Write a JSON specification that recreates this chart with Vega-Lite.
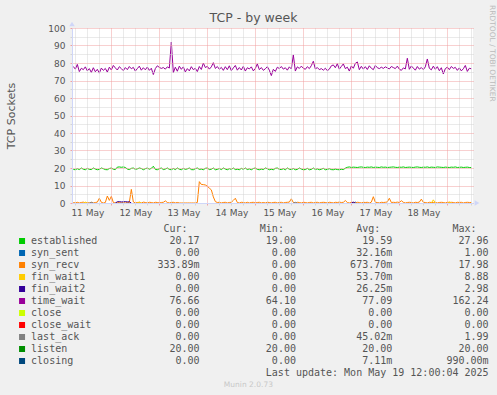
{
  "$schema": "https://vega.github.io/schema/vega-lite/v6.json",
  "background": "#F0F0F0",
  "padding": {"left": 5, "top": 5, "right": 12, "bottom": 12},
  "bounds": "flush",
  "spacing": 26,
  "config": {
    "font": "DejaVu Sans",
    "view": {"stroke": null},
    "axis": {"labelFont": "DejaVu Sans", "titleFont": "DejaVu Sans"},
    "title": {"font": "DejaVu Sans"},
    "text": {"font": "DejaVu Sans Mono", "fontSize": 10, "color": "#555555", "baseline": "middle"}
  },
  "vconcat": [
    {
      "width": 401,
      "height": 175,
      "view": {"fill": "#FFFFFF", "stroke": null},
      "title": {"text": "TCP - by week", "fontSize": 12.5, "fontWeight": "normal", "color": "#555555", "anchor": "middle", "frame": "group", "dx": -19, "dy": 23, "offset": 4},
      "layer": [
        {
          "data": {
            "format": {"parse": {"t": "utc:'%Y-%m-%d %H'"}},
            "values": [
              {"t":"2025-05-11 05","es":19.2,"sr":0.3,"tw":78.0,"li":20,"ss":0,"f1":0,"f2":0,"la":0},
              {"t":"2025-05-11 06","es":19.0,"sr":0,"tw":76.5},
              {"t":"2025-05-11 07","es":19.6,"sr":0.4,"tw":79.2},
              {"t":"2025-05-11 08","es":19.1,"sr":0,"tw":75.1},
              {"t":"2025-05-11 09","es":20.0,"sr":0.3,"tw":77.0},
              {"t":"2025-05-11 10","es":19.3,"sr":0.5,"tw":76.2,"f1":0},
              {"t":"2025-05-11 11","es":19.0,"sr":0,"tw":77.8,"f1":0.5},
              {"t":"2025-05-11 12","es":19.8,"sr":0.3,"tw":75.5,"f1":0},
              {"t":"2025-05-11 13","es":19.2,"sr":0,"tw":76.8,"la":0},
              {"t":"2025-05-11 14","es":19.1,"sr":0.4,"tw":74.6,"la":0.4},
              {"t":"2025-05-11 15","es":20.0,"sr":0,"tw":77.3,"la":0},
              {"t":"2025-05-11 16","es":19.4,"sr":0.3,"tw":75.0},
              {"t":"2025-05-11 17","es":19.0,"sr":0.5,"tw":76.4},
              {"t":"2025-05-11 18","es":19.2,"sr":2.7,"tw":74.2},
              {"t":"2025-05-11 19","es":20.0,"sr":0.4,"tw":77.1},
              {"t":"2025-05-11 20","es":19.6,"sr":0,"tw":75.8},
              {"t":"2025-05-11 21","es":19.1,"sr":0.3,"tw":76.9},
              {"t":"2025-05-11 22","es":19.0,"sr":4.0,"tw":74.8},
              {"t":"2025-05-11 23","es":19.7,"sr":1.5,"tw":77.6},
              {"t":"2025-05-12 00","es":20.0,"sr":3.8,"tw":76.0},
              {"t":"2025-05-12 01","es":19.3,"sr":0.3,"tw":78.6},
              {"t":"2025-05-12 02","es":19.1,"sr":0,"tw":77.2,"f2":0},
              {"t":"2025-05-12 03","es":20.5,"sr":0.4,"tw":76.0,"f2":0.7},
              {"t":"2025-05-12 04","es":20.6,"sr":0.3,"tw":77.9,"f2":0.8},
              {"t":"2025-05-12 05","es":20.4,"sr":0,"tw":76.8,"f2":0.6},
              {"t":"2025-05-12 06","es":20.6,"sr":0.3,"tw":75.6,"f2":0.7},
              {"t":"2025-05-12 07","es":20.3,"sr":0,"tw":77.4,"f2":0.8},
              {"t":"2025-05-12 08","es":19.4,"sr":0.4,"tw":76.2,"f2":0.6},
              {"t":"2025-05-12 09","es":19.1,"sr":0.3,"tw":78.0,"f2":0.7},
              {"t":"2025-05-12 10","es":19.8,"sr":7.8,"tw":76.7,"f2":0},
              {"t":"2025-05-12 11","es":20.0,"sr":0.6,"tw":77.5},
              {"t":"2025-05-12 12","es":19.2,"sr":0,"tw":75.4},
              {"t":"2025-05-12 13","es":19.5,"sr":0.3,"tw":76.8,"f1":0},
              {"t":"2025-05-12 14","es":20.0,"sr":0.4,"tw":78.2,"f1":0.5},
              {"t":"2025-05-12 15","es":19.7,"sr":0,"tw":75.9,"f1":0},
              {"t":"2025-05-12 16","es":19.0,"sr":0.5,"tw":77.3},
              {"t":"2025-05-12 17","es":19.6,"sr":0.3,"tw":76.1},
              {"t":"2025-05-12 18","es":20.0,"sr":0,"tw":77.7},
              {"t":"2025-05-12 19","es":19.3,"sr":0.4,"tw":75.8},
              {"t":"2025-05-12 20","es":19.8,"sr":0.3,"tw":77.0},
              {"t":"2025-05-12 21","es":21.0,"sr":0,"tw":73.4},
              {"t":"2025-05-12 22","es":19.2,"sr":0.4,"tw":76.8},
              {"t":"2025-05-12 23","es":19.0,"sr":0.3,"tw":78.4},
              {"t":"2025-05-13 00","es":19.6,"sr":0,"tw":77.5},
              {"t":"2025-05-13 01","es":20.0,"sr":0.3,"tw":76.9},
              {"t":"2025-05-13 02","es":19.1,"sr":0.4,"tw":77.4},
              {"t":"2025-05-13 03","es":19.4,"sr":1.2,"tw":76.5},
              {"t":"2025-05-13 04","es":20.0,"sr":0.3,"tw":77.8},
              {"t":"2025-05-13 05","es":19.2,"sr":0,"tw":77.1},
              {"t":"2025-05-13 06","es":19.0,"sr":0.3,"tw":92.0},
              {"t":"2025-05-13 07","es":19.7,"sr":0.4,"tw":74.5},
              {"t":"2025-05-13 08","es":19.1,"sr":0,"tw":77.6},
              {"t":"2025-05-13 09","es":20.0,"sr":0.3,"tw":75.3},
              {"t":"2025-05-13 10","es":19.3,"sr":0,"tw":78.2},
              {"t":"2025-05-13 11","es":19.0,"sr":0,"tw":76.4},
              {"t":"2025-05-13 12","es":19.8,"sr":0,"tw":77.8},
              {"t":"2025-05-13 13","es":19.2,"sr":0,"tw":74.9},
              {"t":"2025-05-13 14","es":19.5,"sr":0,"tw":76.8},
              {"t":"2025-05-13 15","es":20.0,"sr":0,"tw":75.5},
              {"t":"2025-05-13 16","es":19.1,"sr":0,"tw":77.9},
              {"t":"2025-05-13 17","es":19.0,"sr":0,"tw":76.2},
              {"t":"2025-05-13 18","es":19.6,"sr":0,"tw":77.0},
              {"t":"2025-05-13 19","es":20.0,"sr":0.3,"tw":75.1},
              {"t":"2025-05-13 20","es":19.2,"sr":12.2,"tw":78.0},
              {"t":"2025-05-13 21","es":19.4,"sr":10.6,"tw":76.3},
              {"t":"2025-05-13 22","es":19.0,"sr":10.5,"tw":80.0},
              {"t":"2025-05-13 23","es":19.8,"sr":10.3,"tw":77.4},
              {"t":"2025-05-14 00","es":20.0,"sr":9.6,"tw":78.1},
              {"t":"2025-05-14 01","es":19.1,"sr":8.5,"tw":76.5},
              {"t":"2025-05-14 02","es":19.3,"sr":7.5,"tw":77.8},
              {"t":"2025-05-14 03","es":20.0,"sr":3.5,"tw":80.2},
              {"t":"2025-05-14 04","es":19.0,"sr":0.8,"tw":76.9},
              {"t":"2025-05-14 05","es":19.2,"sr":0.3,"tw":78.0},
              {"t":"2025-05-14 06","es":19.7,"sr":0.4,"tw":76.4},
              {"t":"2025-05-14 07","es":19.1,"sr":0,"tw":77.5},
              {"t":"2025-05-14 08","es":20.0,"sr":0.3,"tw":75.8},
              {"t":"2025-05-14 09","es":19.4,"sr":0.4,"tw":77.9},
              {"t":"2025-05-14 10","es":19.0,"sr":0,"tw":76.2},
              {"t":"2025-05-14 11","es":19.6,"sr":0.3,"tw":78.4},
              {"t":"2025-05-14 12","es":19.2,"sr":0.4,"tw":75.6},
              {"t":"2025-05-14 13","es":20.0,"sr":1.5,"tw":77.2},
              {"t":"2025-05-14 14","es":19.1,"sr":2.7,"tw":78.6},
              {"t":"2025-05-14 15","es":19.3,"sr":0.3,"tw":75.9},
              {"t":"2025-05-14 16","es":19.0,"sr":0,"tw":77.4},
              {"t":"2025-05-14 17","es":19.8,"sr":0.4,"tw":76.0},
              {"t":"2025-05-14 18","es":19.2,"sr":0.3,"tw":78.1},
              {"t":"2025-05-14 19","es":20.0,"sr":0,"tw":75.4},
              {"t":"2025-05-14 20","es":19.1,"sr":0.4,"tw":77.3},
              {"t":"2025-05-14 21","es":19.5,"sr":0,"tw":76.6},
              {"t":"2025-05-14 22","es":19.0,"sr":0.3,"tw":77.8},
              {"t":"2025-05-14 23","es":19.7,"sr":0.4,"tw":75.5},
              {"t":"2025-05-15 00","es":20.0,"sr":0,"tw":76.9},
              {"t":"2025-05-15 01","es":19.2,"sr":0.3,"tw":79.5},
              {"t":"2025-05-15 02","es":19.0,"sr":0.4,"tw":76.2},
              {"t":"2025-05-15 03","es":19.4,"sr":0,"tw":77.4},
              {"t":"2025-05-15 04","es":19.1,"sr":0.3,"tw":75.8},
              {"t":"2025-05-15 05","es":20.0,"sr":0,"tw":76.7},
              {"t":"2025-05-15 06","es":19.6,"sr":0.4,"tw":77.9},
              {"t":"2025-05-15 07","es":19.0,"sr":0.3,"tw":75.9},
              {"t":"2025-05-15 08","es":19.3,"sr":0,"tw":72.8},
              {"t":"2025-05-15 09","es":19.0,"sr":0.3,"tw":76.4},
              {"t":"2025-05-15 10","es":19.8,"sr":0.4,"tw":75.2},
              {"t":"2025-05-15 11","es":20.0,"sr":0,"tw":77.6},
              {"t":"2025-05-15 12","es":19.2,"sr":0.3,"tw":76.8},
              {"t":"2025-05-15 13","es":19.1,"sr":0.4,"tw":78.0},
              {"t":"2025-05-15 14","es":19.6,"sr":0,"tw":76.5},
              {"t":"2025-05-15 15","es":19.0,"sr":0.3,"tw":77.3},
              {"t":"2025-05-15 16","es":20.0,"sr":0.4,"tw":75.9},
              {"t":"2025-05-15 17","es":19.3,"sr":0.5,"tw":77.8},
              {"t":"2025-05-15 18","es":19.1,"sr":2.4,"tw":76.6},
              {"t":"2025-05-15 19","es":19.7,"sr":0.3,"tw":84.6,"la":0},
              {"t":"2025-05-15 20","es":19.0,"sr":0,"tw":75.4,"la":0.4},
              {"t":"2025-05-15 21","es":19.2,"sr":0.4,"tw":77.8,"la":0},
              {"t":"2025-05-15 22","es":20.0,"sr":0.3,"tw":76.9},
              {"t":"2025-05-15 23","es":19.4,"sr":0,"tw":78.2},
              {"t":"2025-05-16 00","es":19.0,"sr":0.4,"tw":77.0},
              {"t":"2025-05-16 01","es":19.1,"sr":0.3,"tw":76.4},
              {"t":"2025-05-16 02","es":19.8,"sr":0,"tw":77.9},
              {"t":"2025-05-16 03","es":19.0,"sr":0.3,"tw":76.8},
              {"t":"2025-05-16 04","es":19.2,"sr":0.4,"tw":78.5},
              {"t":"2025-05-16 05","es":20.0,"sr":0,"tw":81.0},
              {"t":"2025-05-16 06","es":19.1,"sr":0.3,"tw":76.6},
              {"t":"2025-05-16 07","es":19.5,"sr":0.4,"tw":77.4},
              {"t":"2025-05-16 08","es":19.0,"sr":0,"tw":76.2},
              {"t":"2025-05-16 09","es":19.3,"sr":0.3,"tw":76.8},
              {"t":"2025-05-16 10","es":19.8,"sr":0.4,"tw":75.9},
              {"t":"2025-05-16 11","es":19.0,"sr":0.3,"tw":77.0},
              {"t":"2025-05-16 12","es":19.2,"sr":0,"tw":75.6},
              {"t":"2025-05-16 13","es":19.6,"sr":0.4,"tw":76.5},
              {"t":"2025-05-16 14","es":19.1,"sr":0.3,"tw":78.4},
              {"t":"2025-05-16 15","es":19.0,"sr":0,"tw":78.9},
              {"t":"2025-05-16 16","es":19.4,"sr":0.4,"tw":77.3},
              {"t":"2025-05-16 17","es":19.1,"sr":0.3,"tw":79.6},
              {"t":"2025-05-16 18","es":19.0,"sr":0.5,"tw":76.5},
              {"t":"2025-05-16 19","es":19.3,"sr":0.3,"tw":78.0},
              {"t":"2025-05-16 20","es":19.1,"sr":0.4,"tw":79.5},
              {"t":"2025-05-16 21","es":19.9,"sr":1.4,"tw":76.8},
              {"t":"2025-05-16 22","es":20.4,"sr":0.3,"tw":77.6},
              {"t":"2025-05-16 23","es":20.6,"sr":0,"tw":75.4},
              {"t":"2025-05-17 00","es":20.3,"sr":0.4,"tw":78.3,"f2":0},
              {"t":"2025-05-17 01","es":20.5,"sr":0.3,"tw":77.0,"f2":0.5,"ss":0},
              {"t":"2025-05-17 02","es":20.4,"sr":0,"tw":79.8,"f2":0,"ss":0.5},
              {"t":"2025-05-17 03","es":20.3,"sr":0.4,"tw":80.6,"ss":0},
              {"t":"2025-05-17 04","es":20.5,"sr":0.3,"tw":76.2},
              {"t":"2025-05-17 05","es":20.6,"sr":0,"tw":78.1},
              {"t":"2025-05-17 06","es":20.4,"sr":0.4,"tw":76.5},
              {"t":"2025-05-17 07","es":20.3,"sr":0.3,"tw":77.9},
              {"t":"2025-05-17 08","es":20.5,"sr":0.4,"tw":76.3},
              {"t":"2025-05-17 09","es":20.4,"sr":0,"tw":78.4},
              {"t":"2025-05-17 10","es":20.6,"sr":0.5,"tw":77.0},
              {"t":"2025-05-17 11","es":20.3,"sr":3.6,"tw":76.2},
              {"t":"2025-05-17 12","es":20.5,"sr":0.4,"tw":78.6},
              {"t":"2025-05-17 13","es":20.4,"sr":0.3,"tw":77.3},
              {"t":"2025-05-17 14","es":20.3,"sr":0,"tw":76.8},
              {"t":"2025-05-17 15","es":20.6,"sr":0.4,"tw":77.6},
              {"t":"2025-05-17 16","es":20.4,"sr":0.3,"tw":76.9},
              {"t":"2025-05-17 17","es":20.5,"sr":0.4,"tw":77.8},
              {"t":"2025-05-17 18","es":20.3,"sr":0.6,"tw":77.2},
              {"t":"2025-05-17 19","es":20.4,"sr":2.7,"tw":76.6},
              {"t":"2025-05-17 20","es":20.5,"sr":0.3,"tw":78.0},
              {"t":"2025-05-17 21","es":20.6,"sr":0.4,"tw":77.4},
              {"t":"2025-05-17 22","es":20.4,"sr":0.3,"tw":76.8},
              {"t":"2025-05-17 23","es":20.3,"sr":0.5,"tw":78.2},
              {"t":"2025-05-18 00","es":20.5,"sr":0.3,"tw":76.5},
              {"t":"2025-05-18 01","es":20.4,"sr":1.3,"tw":75.8},
              {"t":"2025-05-18 02","es":20.6,"sr":0.4,"tw":77.2},
              {"t":"2025-05-18 03","es":20.3,"sr":0,"tw":76.6},
              {"t":"2025-05-18 04","es":20.4,"sr":0.3,"tw":82.7},
              {"t":"2025-05-18 05","es":20.5,"sr":0.4,"tw":76.4},
              {"t":"2025-05-18 06","es":20.4,"sr":0.3,"tw":78.3},
              {"t":"2025-05-18 07","es":20.3,"sr":0,"tw":77.1},
              {"t":"2025-05-18 08","es":20.5,"sr":0.4,"tw":75.9},
              {"t":"2025-05-18 09","es":20.6,"sr":0.3,"tw":78.0},
              {"t":"2025-05-18 10","es":20.4,"sr":0.5,"tw":76.5},
              {"t":"2025-05-18 11","es":20.3,"sr":2.2,"tw":77.4},
              {"t":"2025-05-18 12","es":20.5,"sr":0.4,"tw":76.2},
              {"t":"2025-05-18 13","es":20.4,"sr":0.3,"tw":77.8},
              {"t":"2025-05-18 14","es":20.6,"sr":0,"tw":82.3},
              {"t":"2025-05-18 15","es":20.3,"sr":0.4,"tw":77.0},
              {"t":"2025-05-18 16","es":20.5,"sr":0.3,"tw":76.1,"f1":0},
              {"t":"2025-05-18 17","es":20.4,"sr":0.3,"tw":78.2,"f1":1.8},
              {"t":"2025-05-18 18","es":20.3,"sr":0.4,"tw":76.4,"f1":0},
              {"t":"2025-05-18 19","es":20.6,"sr":0,"tw":77.9},
              {"t":"2025-05-18 20","es":20.5,"sr":0.3,"tw":75.6},
              {"t":"2025-05-18 21","es":20.4,"sr":0.4,"tw":77.3},
              {"t":"2025-05-18 22","es":20.3,"sr":0.3,"tw":73.7},
              {"t":"2025-05-18 23","es":20.5,"sr":0,"tw":76.8},
              {"t":"2025-05-19 00","es":20.4,"sr":0.4,"tw":77.6,"f1":0},
              {"t":"2025-05-19 01","es":20.3,"sr":0.3,"tw":76.2,"f1":0.6},
              {"t":"2025-05-19 02","es":20.5,"sr":0.4,"tw":78.0,"f1":0},
              {"t":"2025-05-19 03","es":20.4,"sr":0.3,"tw":76.9},
              {"t":"2025-05-19 04","es":20.6,"sr":0,"tw":77.5},
              {"t":"2025-05-19 05","es":20.3,"sr":0.4,"tw":75.8},
              {"t":"2025-05-19 06","es":20.4,"sr":0.3,"tw":77.2},
              {"t":"2025-05-19 07","es":20.5,"sr":0.4,"tw":75.5},
              {"t":"2025-05-19 08","es":20.3,"sr":0,"tw":76.7},
              {"t":"2025-05-19 09","es":20.4,"sr":0.3,"tw":78.6},
              {"t":"2025-05-19 10","es":20.5,"sr":0.4,"tw":75.2},
              {"t":"2025-05-19 11","es":20.3,"sr":0.3,"tw":77.0},
              {"t":"2025-05-19 12","es":20.2,"sr":0.3,"tw":76.7,"li":20,"ss":0,"f1":0,"f2":0,"la":0}
            ]
          },
          "transform": [{"fold": ["es","ss","sr","f1","f2","tw","la","li"], "as": ["k","v"]}],
          "mark": {"type": "line", "strokeWidth": 1},
          "encoding": {
            "x": {
              "field": "t", "type": "temporal",
              "scale": {"type": "utc", "domain": [{"year":2025,"month":5,"date":11,"hours":4,"minutes":20,"utc":true},{"year":2025,"month":5,"date":19,"hours":12,"minutes":50,"utc":true}]},
              "axis": {"title": null, "tickCount": {"interval": "hours", "step": 6}, "labelExpr": "utchours(datum.value) == 12 && utcdate(datum.value) < 19 ? utcFormat(datum.value, '%d %b') : ''", "labelFlush": false, "labelOverlap": false, "labelFontSize": 9, "labelColor": "#555555", "labelPadding": 3, "gridColor": {"condition": {"test": "utchours(datum.value) == 0", "value": "#F0A0A0"}, "value": "#D4D4D4"}, "gridDash": [1, 1], "tickSize": 2, "tickColor": {"condition": {"test": "utchours(datum.value) == 0", "value": "#F0A0A0"}, "value": "#D4D4D4"}, "domainColor": "#CFD6F8", "zindex": 1}
            },
            "y": {
              "field": "v", "type": "quantitative",
              "scale": {"domain": [0, 100], "nice": false},
              "axis": {"title": "TCP Sockets", "values": [0,5,10,15,20,25,30,35,40,45,50,55,60,65,70,75,80,85,90,95,100], "labelExpr": "datum.value % 10 == 0 ? datum.label : ''", "labelOverlap": false, "labelFontSize": 9, "labelColor": "#555555", "labelPadding": 5, "gridColor": {"condition": {"test": "datum.value % 10 == 0", "value": "#F0A0A0"}, "value": "#D4D4D4"}, "gridDash": [1, 1], "tickSize": 2, "tickColor": {"condition": {"test": "datum.value % 10 == 0", "value": "#F0A0A0"}, "value": "#D4D4D4"}, "titleFontSize": 11, "titleFontWeight": "normal", "titleColor": "#555555", "titlePadding": 31, "domainColor": "#CFD6F8", "zindex": 1}
            },
            "color": {
              "field": "k", "type": "nominal",
              "scale": {"domain": ["es","ss","sr","f1","f2","tw","cl","cw","la","li","cg"], "range": ["#00CC00","#0066B3","#FF8000","#FFCC00","#330099","#990099","#CCFF00","#FF0000","#808080","#008F00","#00487D"]},
              "legend": null
            }
          }
        },
        {
          "data": {"values": [{"s": "RRDTOOL / TOBI OETIKER"}]},
          "mark": {"type": "text", "angle": 90, "align": "left", "baseline": "middle", "font": "DejaVu Sans", "fontSize": 7.5, "color": "#BBBBBB", "dx": -23, "dy": -19},
          "encoding": {
            "x": {"datum": {"year":2025,"month":5,"date":19,"hours":12,"minutes":50,"utc":true}, "type": "temporal",
              "scale": {"type": "utc", "domain": [{"year":2025,"month":5,"date":11,"hours":4,"minutes":20,"utc":true},{"year":2025,"month":5,"date":19,"hours":12,"minutes":50,"utc":true}]},
              "axis": {"title": null, "tickCount": {"interval": "hours", "step": 6}, "labelExpr": "utchours(datum.value) == 12 && utcdate(datum.value) < 19 ? utcFormat(datum.value, '%d %b') : ''", "labelFlush": false, "labelOverlap": false, "labelFontSize": 9, "labelColor": "#555555", "labelPadding": 3, "gridColor": {"condition": {"test": "utchours(datum.value) == 0", "value": "#F0A0A0"}, "value": "#D4D4D4"}, "gridDash": [1, 1], "tickSize": 2, "tickColor": {"condition": {"test": "utchours(datum.value) == 0", "value": "#F0A0A0"}, "value": "#D4D4D4"}, "domainColor": "#CFD6F8", "zindex": 1}},
            "y": {"datum": 100, "type": "quantitative",
              "scale": {"domain": [0, 100], "nice": false},
              "axis": {"title": "TCP Sockets", "values": [0,5,10,15,20,25,30,35,40,45,50,55,60,65,70,75,80,85,90,95,100], "labelExpr": "datum.value % 10 == 0 ? datum.label : ''", "labelOverlap": false, "labelFontSize": 9, "labelColor": "#555555", "labelPadding": 5, "gridColor": {"condition": {"test": "datum.value % 10 == 0", "value": "#F0A0A0"}, "value": "#D4D4D4"}, "gridDash": [1, 1], "tickSize": 2, "tickColor": {"condition": {"test": "datum.value % 10 == 0", "value": "#F0A0A0"}, "value": "#D4D4D4"}, "titleFontSize": 11, "titleFontWeight": "normal", "titleColor": "#555555", "titlePadding": 31, "domainColor": "#CFD6F8", "zindex": 1}},
            "text": {"field": "s"}
          }
        },
        {
          "data": {"values": [{}]},
          "mark": {"type": "point", "shape": "triangle-up", "filled": true, "color": "#CFD6F8", "opacity": 1, "size": 30, "yOffset": -4},
          "encoding": {
            "x": {"datum": {"year":2025,"month":5,"date":11,"hours":4,"minutes":20,"utc":true}, "type": "temporal",
              "scale": {"type": "utc", "domain": [{"year":2025,"month":5,"date":11,"hours":4,"minutes":20,"utc":true},{"year":2025,"month":5,"date":19,"hours":12,"minutes":50,"utc":true}]},
              "axis": {"title": null, "tickCount": {"interval": "hours", "step": 6}, "labelExpr": "utchours(datum.value) == 12 && utcdate(datum.value) < 19 ? utcFormat(datum.value, '%d %b') : ''", "labelFlush": false, "labelOverlap": false, "labelFontSize": 9, "labelColor": "#555555", "labelPadding": 3, "gridColor": {"condition": {"test": "utchours(datum.value) == 0", "value": "#F0A0A0"}, "value": "#D4D4D4"}, "gridDash": [1, 1], "tickSize": 2, "tickColor": {"condition": {"test": "utchours(datum.value) == 0", "value": "#F0A0A0"}, "value": "#D4D4D4"}, "domainColor": "#CFD6F8", "zindex": 1}},
            "y": {"datum": 100, "type": "quantitative",
              "scale": {"domain": [0, 100], "nice": false},
              "axis": {"title": "TCP Sockets", "values": [0,5,10,15,20,25,30,35,40,45,50,55,60,65,70,75,80,85,90,95,100], "labelExpr": "datum.value % 10 == 0 ? datum.label : ''", "labelOverlap": false, "labelFontSize": 9, "labelColor": "#555555", "labelPadding": 5, "gridColor": {"condition": {"test": "datum.value % 10 == 0", "value": "#F0A0A0"}, "value": "#D4D4D4"}, "gridDash": [1, 1], "tickSize": 2, "tickColor": {"condition": {"test": "datum.value % 10 == 0", "value": "#F0A0A0"}, "value": "#D4D4D4"}, "titleFontSize": 11, "titleFontWeight": "normal", "titleColor": "#555555", "titlePadding": 31, "domainColor": "#CFD6F8", "zindex": 1}}
          }
        },
        {
          "data": {"values": [{}]},
          "mark": {"type": "point", "shape": "triangle-right", "filled": true, "color": "#CFD6F8", "opacity": 1, "size": 30, "xOffset": 4},
          "encoding": {
            "x": {"datum": {"year":2025,"month":5,"date":19,"hours":12,"minutes":50,"utc":true}, "type": "temporal",
              "scale": {"type": "utc", "domain": [{"year":2025,"month":5,"date":11,"hours":4,"minutes":20,"utc":true},{"year":2025,"month":5,"date":19,"hours":12,"minutes":50,"utc":true}]},
              "axis": {"title": null, "tickCount": {"interval": "hours", "step": 6}, "labelExpr": "utchours(datum.value) == 12 && utcdate(datum.value) < 19 ? utcFormat(datum.value, '%d %b') : ''", "labelFlush": false, "labelOverlap": false, "labelFontSize": 9, "labelColor": "#555555", "labelPadding": 3, "gridColor": {"condition": {"test": "utchours(datum.value) == 0", "value": "#F0A0A0"}, "value": "#D4D4D4"}, "gridDash": [1, 1], "tickSize": 2, "tickColor": {"condition": {"test": "utchours(datum.value) == 0", "value": "#F0A0A0"}, "value": "#D4D4D4"}, "domainColor": "#CFD6F8", "zindex": 1}},
            "y": {"datum": 0, "type": "quantitative",
              "scale": {"domain": [0, 100], "nice": false},
              "axis": {"title": "TCP Sockets", "values": [0,5,10,15,20,25,30,35,40,45,50,55,60,65,70,75,80,85,90,95,100], "labelExpr": "datum.value % 10 == 0 ? datum.label : ''", "labelOverlap": false, "labelFontSize": 9, "labelColor": "#555555", "labelPadding": 5, "gridColor": {"condition": {"test": "datum.value % 10 == 0", "value": "#F0A0A0"}, "value": "#D4D4D4"}, "gridDash": [1, 1], "tickSize": 2, "tickColor": {"condition": {"test": "datum.value % 10 == 0", "value": "#F0A0A0"}, "value": "#D4D4D4"}, "titleFontSize": 11, "titleFontWeight": "normal", "titleColor": "#555555", "titlePadding": 31, "domainColor": "#CFD6F8", "zindex": 1}}
          }
        }
      ]
    },
    {
      "width": 401,
      "height": 156,
      "view": {"stroke": null, "fill": null},
      "data": {"values": [
        {"name":"established","k":"es","cur":"20.17\u00a0","min":"19.00\u00a0","avg":"19.59\u00a0","max":"27.96\u00a0"},
        {"name":"syn_sent","k":"ss","cur":"0.00\u00a0","min":"0.00\u00a0","avg":"32.16m","max":"1.00\u00a0"},
        {"name":"syn_recv","k":"sr","cur":"333.89m","min":"0.00\u00a0","avg":"673.70m","max":"17.98\u00a0"},
        {"name":"fin_wait1","k":"f1","cur":"0.00\u00a0","min":"0.00\u00a0","avg":"53.70m","max":"8.88\u00a0"},
        {"name":"fin_wait2","k":"f2","cur":"0.00\u00a0","min":"0.00\u00a0","avg":"26.25m","max":"2.98\u00a0"},
        {"name":"time_wait","k":"tw","cur":"76.66\u00a0","min":"64.10\u00a0","avg":"77.09\u00a0","max":"162.24\u00a0"},
        {"name":"close","k":"cl","cur":"0.00\u00a0","min":"0.00\u00a0","avg":"0.00\u00a0","max":"0.00\u00a0"},
        {"name":"close_wait","k":"cw","cur":"0.00\u00a0","min":"0.00\u00a0","avg":"0.00\u00a0","max":"0.00\u00a0"},
        {"name":"last_ack","k":"la","cur":"0.00\u00a0","min":"0.00\u00a0","avg":"45.02m","max":"1.99\u00a0"},
        {"name":"listen","k":"li","cur":"20.00\u00a0","min":"20.00\u00a0","avg":"20.00\u00a0","max":"20.00\u00a0"},
        {"name":"closing","k":"cg","cur":"0.00\u00a0","min":"0.00\u00a0","avg":"7.11m","max":"990.00m"}
      ]},
      "encoding": {
        "y": {"field": "name", "type": "nominal", "axis": null,
              "scale": {"type": "point", "padding": 0, "domain": ["hdr","established","syn_sent","syn_recv","fin_wait1","fin_wait2","time_wait","close","close_wait","last_ack","listen","closing","upd","munin"]}}
      },
      "layer": [
        {
          "mark": {"type": "point", "shape": "square", "filled": true, "opacity": 1, "size": 36, "strokeWidth": 0},
          "encoding": {
            "x": {"datum": 2.5, "type": "quantitative", "scale": {"domain": [10.797, 77.409], "nice": false, "zero": false}, "axis": null},
            "color": {"field": "k", "type": "nominal", "legend": null,
              "scale": {"domain": ["es","ss","sr","f1","f2","tw","cl","cw","la","li","cg"], "range": ["#00CC00","#0066B3","#FF8000","#FFCC00","#330099","#990099","#CCFF00","#FF0000","#808080","#008F00","#00487D"]}}
          }
        },
        {
          "mark": {"type": "text", "align": "left"},
          "encoding": {
            "x": {"datum": 4, "type": "quantitative", "scale": {"domain": [10.797, 77.409], "nice": false, "zero": false}, "axis": null},
            "text": {"field": "name"}
          }
        },
        {
          "mark": {"type": "text", "align": "right"},
          "encoding": {
            "x": {"datum": 32, "type": "quantitative", "scale": {"domain": [10.797, 77.409], "nice": false, "zero": false}, "axis": null},
            "text": {"field": "cur"}
          }
        },
        {
          "mark": {"type": "text", "align": "right"},
          "encoding": {
            "x": {"datum": 48, "type": "quantitative", "scale": {"domain": [10.797, 77.409], "nice": false, "zero": false}, "axis": null},
            "text": {"field": "min"}
          }
        },
        {
          "mark": {"type": "text", "align": "right"},
          "encoding": {
            "x": {"datum": 64, "type": "quantitative", "scale": {"domain": [10.797, 77.409], "nice": false, "zero": false}, "axis": null},
            "text": {"field": "avg"}
          }
        },
        {
          "mark": {"type": "text", "align": "right"},
          "encoding": {
            "x": {"datum": 80, "type": "quantitative", "scale": {"domain": [10.797, 77.409], "nice": false, "zero": false}, "axis": null},
            "text": {"field": "max"}
          }
        },
        {
          "data": {"values": [{"name": "hdr", "s": "Cur:"}]},
          "mark": {"type": "text", "align": "right"},
          "encoding": {
            "x": {"datum": 30, "type": "quantitative", "scale": {"domain": [10.797, 77.409], "nice": false, "zero": false}, "axis": null},
            "text": {"field": "s"}
          }
        },
        {
          "data": {"values": [{"name": "hdr", "s": "Min:"}]},
          "mark": {"type": "text", "align": "right"},
          "encoding": {
            "x": {"datum": 46, "type": "quantitative", "scale": {"domain": [10.797, 77.409], "nice": false, "zero": false}, "axis": null},
            "text": {"field": "s"}
          }
        },
        {
          "data": {"values": [{"name": "hdr", "s": "Avg:"}]},
          "mark": {"type": "text", "align": "right"},
          "encoding": {
            "x": {"datum": 62, "type": "quantitative", "scale": {"domain": [10.797, 77.409], "nice": false, "zero": false}, "axis": null},
            "text": {"field": "s"}
          }
        },
        {
          "data": {"values": [{"name": "hdr", "s": "Max:"}]},
          "mark": {"type": "text", "align": "right"},
          "encoding": {
            "x": {"datum": 78, "type": "quantitative", "scale": {"domain": [10.797, 77.409], "nice": false, "zero": false}, "axis": null},
            "text": {"field": "s"}
          }
        },
        {
          "data": {"values": [{"name": "upd", "s": "Last update: Mon May 19 12:00:04 2025"}]},
          "mark": {"type": "text", "align": "right"},
          "encoding": {
            "x": {"datum": 80, "type": "quantitative", "scale": {"domain": [10.797, 77.409], "nice": false, "zero": false}, "axis": null},
            "text": {"field": "s"}
          }
        },
        {
          "data": {"values": [{"name": "munin", "s": "Munin 2.0.73"}]},
          "mark": {"type": "text", "align": "center", "font": "DejaVu Sans", "fontSize": 7.5, "color": "#C8C8C8"},
          "encoding": {
            "x": {"datum": 40.1, "type": "quantitative", "scale": {"domain": [10.797, 77.409], "nice": false, "zero": false}, "axis": null},
            "text": {"field": "s"}
          }
        }
      ]
    }
  ]
}
